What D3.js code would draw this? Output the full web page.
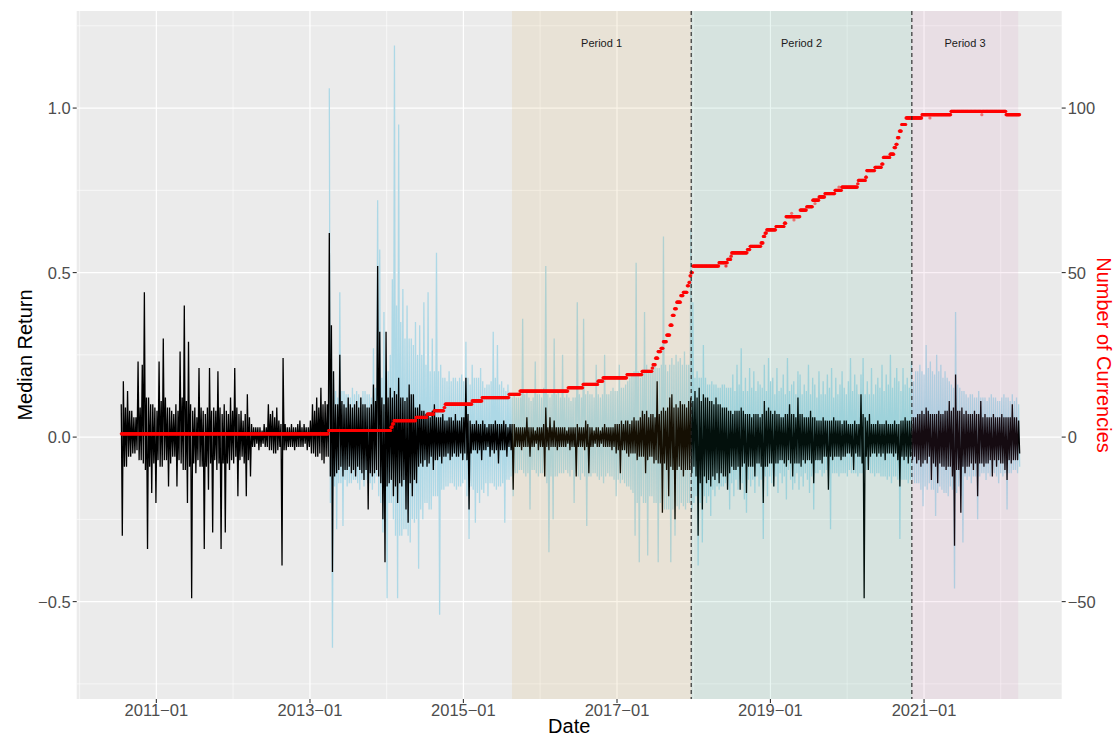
<!DOCTYPE html>
<html>
<head>
<meta charset="utf-8">
<script src="https://cdn.jsdelivr.net/npm/d3@7"></script>
<style>
  body { margin: 0; background: #fff; }
  svg { display: block; }
  text { font-family: "Liberation Sans", Arial, Helvetica, sans-serif; }
</style>
</head>
<body>
<div id="chart"></div>
<script>
// daily series read as 10-day windows from startDate: high and low of each window, in hundredths
var startDate = '2010-07-18';
var stepDays = 10;

var medianHigh = [
  10,17,9,14,8,8,6,6,23,9, 22,44,12,12,10,10,9,8,23,11,
  30,12,9,9,8,7,10,8,26,12, 40,11,29,10,8,9,6,21,9,8,
  7,9,21,8,9,8,20,9,7,10, 8,7,12,8,21,9,7,8,5,7,
  13,6,4,3,3,3,3,2,4,3, 10,7,8,6,9,5,4,24,4,3,
  3,4,3,3,4,5,3,4,3,3, 5,10,8,12,9,15,10,11,10,62,
  34,20,10,10,25,11,10,9,12,10, 9,10,11,9,12,10,10,9,9,10,
  16,11,52,32,12,10,32,12,15,12, 14,13,18,12,12,11,12,16,13,13,
  9,9,10,8,8,7,7,6,8,10, 6,6,6,7,5,5,6,6,5,7,
  5,5,6,6,18,7,5,4,4,5, 4,4,5,4,3,4,4,4,5,4,
  4,4,5,4,3,4,4,4,3,3, 3,3,3,6,3,3,3,2,3,3,
  3,4,9,3,6,3,5,3,3,3, 3,3,2,3,3,3,3,4,3,3,
  3,5,4,3,3,2,3,3,2,3, 4,3,3,3,3,4,4,4,5,4,
  5,5,4,5,6,5,5,6,8,7, 8,6,7,7,6,17,7,8,9,8,
  9,12,13,9,10,9,11,10,10,9, 11,12,11,14,12,15,11,13,12,12,
  11,11,10,12,10,10,9,9,9,8, 8,7,8,8,8,9,8,7,7,7,
  6,7,7,7,6,7,11,8,9,8, 7,8,7,7,6,6,7,7,10,7,
  7,6,12,7,7,6,6,6,8,6, 6,5,5,5,6,5,5,5,5,6,
  5,5,5,4,5,5,4,4,4,5, 4,4,13,7,6,5,7,4,4,4,
  5,4,4,4,5,4,4,4,5,4, 4,5,5,6,5,5,5,6,6,7,
  7,8,7,9,8,7,7,7,7,8, 7,7,8,8,11,8,9,19,8,8,
  9,7,8,7,7,7,8,7,7,11, 6,7,6,6,6,7,6,6,6,7,
  6,6,6,6,10,6,6,5
];
var medianLow = [
  -30,-9,-9,-6,-6,-5,-5,-4,-7,-7, -8,-10,-34,-9,-17,-8,-20,-7,-9,-9,
  -7,-7,-15,-8,-6,-6,-15,-7,-8,-10, -10,-20,-9,-49,-8,-11,-7,-9,-9,-34,
  -9,-16,-8,-29,-7,-10,-8,-34,-8,-29, -8,-10,-7,-8,-6,-18,-7,-6,-8,-18,
  -7,-12,-3,-3,-2,-4,-3,-2,-3,-3, -4,-4,-5,-5,-4,-3,-39,-4,-4,-3,
  -3,-3,-4,-3,-3,-3,-3,-2,-4,-3, -5,-5,-6,-6,-5,-7,-8,-6,-6,-12,
  -41,-12,-11,-10,-9,-12,-10,-10,-9,-11, -10,-12,-9,-10,-11,-13,-10,-22,-11,-12,
  -11,-10,-12,-14,-25,-38,-15,-14,-13,-18, -15,-20,-14,-15,-13,-22,-26,-14,-18,-13,
  -14,-9,-8,-9,-7,-9,-8,-6,-10,-7, -7,-6,-8,-6,-6,-5,-7,-6,-5,-6,
  -6,-5,-7,-5,-7,-22,-5,-4,-4,-5, -4,-7,-4,-4,-3,-6,-4,-5,-4,-8,
  -4,-4,-4,-6,-3,-4,-16,-3,-3,-3, -4,-3,-3,-3,-6,-3,-3,-2,-4,-3,
  -3,-12,-3,-4,-3,-3,-3,-4,-3,-3, -3,-3,-2,-4,-3,-3,-12,-3,-3,-3,
  -4,-3,-11,-3,-3,-2,-3,-3,-2,-3, -3,-3,-3,-4,-3,-5,-4,-11,-4,-4,
  -5,-6,-5,-5,-5,-7,-6,-6,-6,-11, -7,-6,-6,-8,-7,-8,-8,-23,-8,-10,
  -18,-9,-10,-25,-10,-9,-10,-12,-10,-10, -10,-11,-9,-12,-30,-14,-22,-12,-14,-13,
  -15,-12,-13,-11,-14,-11,-12,-12,-16,-11, -9,-10,-10,-9,-16,-9,-8,-17,-9,-9,
  -9,-12,-8,-8,-9,-20,-9,-9,-8,-8, -15,-8,-8,-7,-7,-8,-9,-7,-8,-12,
  -8,-8,-8,-9,-7,-8,-7,-7,-8,-14, -7,-7,-7,-8,-6,-6,-16,-6,-7,-6,
  -6,-6,-7,-6,-6,-5,-5,-6,-10,-5, -6,-6,-8,-49,-6,-10,-6,-5,-5,-6,
  -5,-6,-5,-7,-5,-5,-5,-6,-5,-7, -15,-6,-7,-6,-8,-6,-7,-6,-8,-7,
  -9,-8,-7,-8,-6,-13,-8,-9,-14,-8, -9,-9,-10,-9,-9,-12,-33,-10,-10,-23,
  -9,-11,-9,-9,-8,-10,-8,-18,-8,-8, -9,-8,-8,-7,-12,-7,-9,-7,-8,-8,
  -10,-13,-7,-8,-7,-7,-7,-5
];

// light blue series starts at window 99
var blueOffset = 99;
var otherHigh = [
  106,
  30,20,14,12,44,14,14,13,13,12, 15,13,14,13,12,14,14,13,13,12,
  27,15,72,57,18,38,20,20,25,48, 119,40,95,35,45,30,40,30,30,28,
  35,25,34,25,41,22,44,20,30,20, 56,20,22,18,18,17,20,17,18,18,
  17,18,19,17,29,18,16,22,18,18, 18,21,17,15,16,16,17,32,18,28,
  16,17,15,14,16,13,12,13,12,12, 12,36,13,14,12,11,12,23,13,13,
  12,15,52,13,12,13,30,13,14,12, 25,12,13,12,11,12,12,41,13,12,
  36,13,14,13,13,12,22,13,12,13, 25,13,13,14,15,14,14,22,15,15,
  16,17,18,19,20,53,20,18,20,38, 22,20,20,22,22,21,21,22,61,22,
  20,22,24,22,25,23,24,22,26,22, 22,63,41,18,20,18,18,28,18,16,
  16,17,16,16,15,15,16,16,15,15, 15,19,14,22,16,27,14,18,14,21,
  15,20,14,17,16,15,22,14,24,17, 18,13,21,14,15,19,13,24,14,16,
  17,13,20,19,13,16,14,22,13,18, 16,12,20,13,17,13,19,15,21,12,
  18,13,16,20,15,13,17,24,14,19, 16,13,19,24,13,17,13,21,13,16,
  18,15,22,14,19,16,25,15,18,21, 17,14,21,16,18,15,23,17,20,20,
  22,20,19,28,21,23,20,19,25,20, 22,18,20,18,17,16,15,38,16,15,
  14,14,13,12,13,13,12,12,14,12, 12,12,11,12,13,12,12,11,11,12,
  13,12,12,11,13,11,12,10
];
var otherLow = [
  -20,
  -64,-15,-28,-14,-14,-27,-13,-15,-14,-14, -13,-13,-14,-16,-13,-15,-13,-14,-14,-16,
  -14,-12,-18,-20,-29,-22,-49,-20,-20,-25, -30,-49,-30,-30,-28,-28,-30,-32,-25,-26,
  -25,-40,-22,-25,-20,-20,-22,-22,-18,-18, -18,-54,-16,-16,-15,-15,-14,-14,-15,-16,
  -15,-15,-14,-13,-18,-31,-15,-16,-26,-17, -20,-16,-17,-14,-18,-14,-14,-15,-16,-15,
  -15,-14,-26,-13,-13,-12,-18,-11,-11,-10, -10,-11,-12,-11,-22,-10,-10,-11,-12,-11,
  -11,-12,-14,-35,-12,-25,-12,-12,-11,-11, -11,-10,-11,-12,-10,-20,-11,-12,-13,-11,
  -12,-27,-12,-12,-11,-11,-12,-13,-12,-14, -12,-11,-12,-12,-13,-18,-13,-14,-13,-14,
  -15,-15,-16,-17,-30,-20,-38,-18,-20,-20, -36,-18,-18,-20,-20,-38,-20,-19,-22,-22,
  -22,-38,-22,-30,-21,-22,-20,-21,-22,-20, -20,-22,-20,-18,-39,-20,-32,-18,-20,-18,
  -24,-16,-18,-15,-16,-15,-15,-14,-15,-22, -14,-18,-13,-16,-13,-14,-19,-23,-13,-15,
  -13,-17,-12,-15,-13,-31,-12,-18,-12,-14, -15,-12,-17,-11,-14,-12,-19,-10,-13,-16,
  -14,-11,-16,-12,-15,-11,-13,-17,-12,-22, -11,-11,-10,-12,-11,-10,-12,-28,-11,-11,
  -11,-12,-11,-11,-11,-12,-10,-11,-11,-11, -12,-11,-11,-12,-10,-10,-11,-11,-12,-11,
  -11,-12,-12,-12,-13,-12,-14,-12,-12,-13, -31,-13,-13,-13,-14,-13,-13,-14,-14,-14,
  -16,-21,-15,-16,-14,-16,-16,-24,-17,-15, -16,-17,-17,-18,-15,-16,-46,-17,-15,-18,
  -32,-12,-13,-12,-14,-12,-12,-25,-12,-11, -11,-13,-11,-12,-11,-11,-12,-14,-11,-12,
  -11,-22,-11,-11,-10,-10,-11,-9
];

// number of currencies: date from which each count holds
var stepDates = ['2010-07-18','2013-03-30','2014-01-21','2014-01-28','2014-02-04','2014-05-20','2014-07-12','2014-08-14','2014-10-01','2014-10-06',
  '2015-02-11','2015-03-31','2015-08-06','2015-09-27','2016-05-13','2016-07-23','2016-10-02','2016-10-26','2017-02-17','2017-04-30',
  '2017-06-17','2017-06-21','2017-07-03','2017-07-15','2017-07-29','2017-08-09','2017-08-25','2017-09-10','2017-09-21','2017-10-01',
  '2017-10-12','2017-10-31','2017-11-12','2017-12-01','2017-12-09','2017-12-14','2017-12-19','2017-12-27','2018-05-01','2018-06-03',
  '2018-06-05','2018-06-11','2018-06-27','2018-06-30','2018-09-13','2018-09-26','2018-11-17','2018-11-28','2018-12-06','2018-12-14',
  '2019-01-27','2019-03-08','2019-03-16','2019-04-12','2019-04-13','2019-04-23','2019-04-24','2019-05-22','2019-06-22','2019-07-21',
  '2019-08-01','2019-08-02','2019-08-20','2019-09-17','2019-11-04','2019-11-23','2019-11-24','2019-12-06','2020-02-20','2020-02-23',
  '2020-03-29','2020-04-03','2020-05-12','2020-06-13','2020-06-21','2020-07-23','2020-08-11','2020-08-20','2020-08-27','2020-09-05',
  '2020-09-16','2020-10-07','2020-12-22','2021-01-29','2021-01-30','2021-05-09','2021-10-03','2021-10-04','2022-01-26'];
var stepCounts = [1,2,3,4,5,6,7,8,9,10, 11,12,13,14,15,16,17,18,19,20,
  21,22,24,26,27,29,31,34,37,39, 41,43,44,46,47,49,50,52,53,52,
  53,54,55,56,57,58,59,61,62,63, 64,65,67,68,67,66,67,69,70,72,
  71,72,73,74,75,76,75,76,77,78, 79,81,82,83,85,86,88,89,91,93,
  95,97,98,97,98,99,98,99,98];

var periodNames = ['Period 1', 'Period 2', 'Period 3'];
var periodStart = ['2015-08-20', '2017-12-20', '2020-11-04'];
var periodEnd = ['2017-12-20', '2020-11-04', '2022-03-25'];
var periodFill = ['#d2961e', '#1b9e77', '#cd69a5'];
var cutDates = ['2017-12-20', '2020-11-04'];

var leftTicks = [-0.5, 0, 0.5, 1.0];
var leftMinor = [-0.75, -0.25, 0.25, 0.75, 1.25];
var rightTicks = [-50, 0, 50, 100];
var xTickYears = [2011, 2013, 2015, 2017, 2019, 2021];
var xMinorYears = [2010, 2012, 2014, 2016, 2018, 2020, 2022];

var W = 1115, H = 737;
var panel = { left: 76.7, right: 1061.7, top: 11, bottom: 699 };
var parse = d3.utcParse('%Y-%m-%d');
var minus = function (s) { return String(s).replace(/-/g, '\u2212'); };

var x = d3.scaleUtc().domain([parse('2009-12-18'), parse('2022-10-18')]).range([panel.left, panel.right]);
var y = d3.scaleLinear().domain([-0.796, 1.295]).range([panel.bottom, panel.top]);
var y2 = d3.scaleLinear().domain([-79.6, 129.5]).range([panel.bottom, panel.top]);

var t0 = parse(startDate);
function zigzag(high, low, offset) {
  var pts = [];
  high.forEach(function (h, i) {
    var d = d3.utcDay.offset(t0, (i + offset) * stepDays);
    pts.push({ date: d, v: h / 100 });
    pts.push({ date: d3.utcDay.offset(d, stepDays / 2), v: low[i] / 100 });
  });
  return pts;
}
var blackPts = zigzag(medianHigh, medianLow, 0);
var bluePts = zigzag(otherHigh, otherLow, blueOffset);
var lastDate = blackPts[blackPts.length - 1].date;

var stepParsed = stepDates.map(parse);
var countPts = d3.utcDay.range(t0, d3.utcDay.offset(lastDate, 1)).map(function (d) {
  var k = d3.bisectRight(stepParsed, d) - 1;
  return { date: d, n: stepCounts[Math.max(k, 0)] };
});

var svg = d3.select('#chart').append('svg').attr('width', W).attr('height', H);
svg.append('rect').attr('width', W).attr('height', H).attr('fill', '#fff');

svg.append('rect').attr('x', panel.left).attr('y', panel.top)
  .attr('width', panel.right - panel.left).attr('height', panel.bottom - panel.top).attr('fill', '#ebebeb');

svg.append('clipPath').attr('id', 'clip').append('rect')
  .attr('x', panel.left).attr('y', panel.top)
  .attr('width', panel.right - panel.left).attr('height', panel.bottom - panel.top);

var grid = svg.append('g');
leftMinor.forEach(function (v) {
  grid.append('line').attr('x1', panel.left).attr('x2', panel.right).attr('y1', y(v)).attr('y2', y(v))
    .attr('stroke', '#fff').attr('stroke-width', 0.6);
});
xMinorYears.forEach(function (yr) {
  var px = x(Date.UTC(yr, 0, 1));
  grid.append('line').attr('x1', px).attr('x2', px).attr('y1', panel.top).attr('y2', panel.bottom)
    .attr('stroke', '#fff').attr('stroke-width', 0.6);
});
leftTicks.forEach(function (v) {
  grid.append('line').attr('x1', panel.left).attr('x2', panel.right).attr('y1', y(v)).attr('y2', y(v))
    .attr('stroke', '#fff').attr('stroke-width', 1.2);
});
xTickYears.forEach(function (yr) {
  var px = x(Date.UTC(yr, 0, 1));
  grid.append('line').attr('x1', px).attr('x2', px).attr('y1', panel.top).attr('y2', panel.bottom)
    .attr('stroke', '#fff').attr('stroke-width', 1.2);
});

var plot = svg.append('g').attr('clip-path', 'url(#clip)');
var line = d3.line().x(function (d) { return x(d.date); }).y(function (d) { return y(d.v); });

plot.append('path').datum(bluePts).attr('d', line)
  .attr('fill', 'none').attr('stroke', 'lightblue').attr('stroke-width', 1.3).attr('stroke-linejoin', 'bevel');
plot.append('path').datum(blackPts).attr('d', line)
  .attr('fill', 'none').attr('stroke', '#000').attr('stroke-width', 1.3).attr('stroke-linejoin', 'bevel');

// shaded periods over the lines
periodNames.forEach(function (name, i) {
  var a = x(parse(periodStart[i])), b = x(parse(periodEnd[i]));
  plot.append('rect').attr('x', a).attr('y', panel.top).attr('width', b - a)
    .attr('height', panel.bottom - panel.top).attr('fill', periodFill[i]).attr('fill-opacity', 0.1);
});

plot.append('g').selectAll('circle').data(countPts).enter().append('circle')
  .attr('cx', function (d) { return x(d.date); })
  .attr('cy', function (d) { return y2(d.n); })
  .attr('r', 1.6)
  .attr('fill', 'red')
  .attr('fill-opacity', 0.5);

cutDates.forEach(function (s) {
  var px = x(parse(s));
  plot.append('line').attr('x1', px).attr('x2', px).attr('y1', panel.top).attr('y2', panel.bottom)
    .attr('stroke', '#222').attr('stroke-width', 1.1).attr('stroke-dasharray', '4,3');
});

periodNames.forEach(function (name, i) {
  var a = x(parse(periodStart[i])), b = x(parse(periodEnd[i]));
  svg.append('text').attr('x', (a + b) / 2).attr('y', 47).attr('text-anchor', 'middle')
    .attr('font-size', 11).attr('fill', '#1a1a1a').text(name);
});

// axes
var axes = svg.append('g');
leftTicks.forEach(function (v) {
  axes.append('line').attr('x1', panel.left - 4).attr('x2', panel.left).attr('y1', y(v)).attr('y2', y(v))
    .attr('stroke', '#333').attr('stroke-width', 1.1);
  axes.append('text').attr('x', panel.left - 6).attr('y', y(v)).attr('dy', '0.36em')
    .attr('text-anchor', 'end').attr('font-size', 16.5).attr('fill', '#4d4d4d').text(minus(d3.format('.1f')(v)));
});
rightTicks.forEach(function (v) {
  axes.append('line').attr('x1', panel.right).attr('x2', panel.right + 4).attr('y1', y2(v)).attr('y2', y2(v))
    .attr('stroke', '#333').attr('stroke-width', 1.1);
  axes.append('text').attr('x', panel.right + 6).attr('y', y2(v)).attr('dy', '0.36em')
    .attr('text-anchor', 'start').attr('font-size', 16.5).attr('fill', '#4d4d4d').text(minus(v));
});
var fmtX = d3.utcFormat('%Y-%m');
xTickYears.forEach(function (yr) {
  var d = new Date(Date.UTC(yr, 0, 1)), px = x(d);
  axes.append('line').attr('x1', px).attr('x2', px).attr('y1', panel.bottom).attr('y2', panel.bottom + 4)
    .attr('stroke', '#333').attr('stroke-width', 1.1);
  axes.append('text').attr('x', px).attr('y', 716).attr('text-anchor', 'middle')
    .attr('font-size', 16.5).attr('fill', '#4d4d4d').text(minus(fmtX(d)));
});

svg.append('text').attr('x', (panel.left + panel.right) / 2).attr('y', 733).attr('text-anchor', 'middle')
  .attr('font-size', 20).attr('fill', '#000').text('Date');
svg.append('text').attr('transform', 'translate(32,' + (panel.top + panel.bottom) / 2 + ') rotate(-90)')
  .attr('text-anchor', 'middle').attr('font-size', 20).attr('fill', '#000').text('Median Return');
svg.append('text').attr('transform', 'translate(1097,' + (panel.top + panel.bottom) / 2 + ') rotate(90)')
  .attr('text-anchor', 'middle').attr('font-size', 20).attr('fill', 'red').text('Number of Currencies');
</script>
</body>
</html>
